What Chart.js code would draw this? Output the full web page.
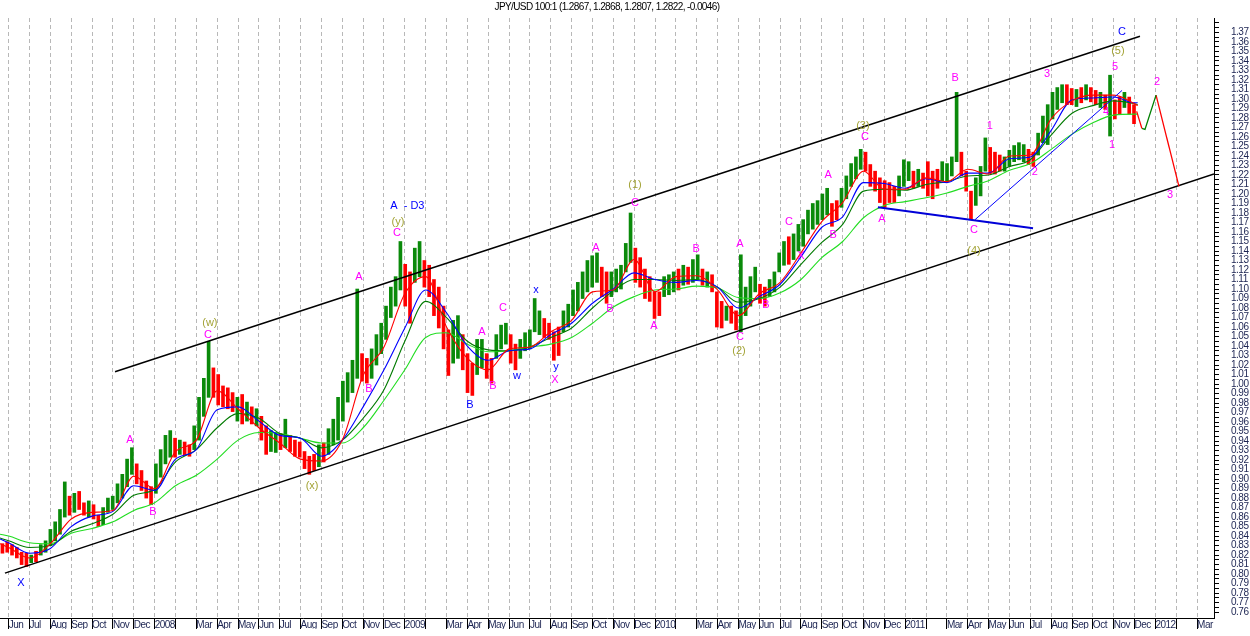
<!DOCTYPE html>
<html>
<head>
<meta charset="utf-8">
<title>JPY/USD 100:1</title>
<script src="https://cdn.jsdelivr.net/npm/chart.js@4.4.1/dist/chart.umd.min.js"></script>
<style>
  html, body { margin: 0; padding: 0; background: #fff; }
  #wrap { position: relative; width: 1250px; height: 636px; }
</style>
</head>
<body>
<div id="wrap"><canvas id="chart"></canvas></div>
<script>
// x values are months counted from 1 Jun 2007 (0 = Jun 2007, 7 = Jan 2008 ...)
const TITLE = "JPY/USD 100:1 (1.2867, 1.2868, 1.2807, 1.2822, -0.0046)";

const MONTH_LABELS = [
  "Jun", "Jul", "Aug", "Sep", "Oct", "Nov", "Dec",
  "2008", "", "Mar", "Apr", "May", "Jun", "Jul", "Aug", "Sep", "Oct", "Nov", "Dec",
  "2009", "", "Mar", "Apr", "May", "Jun", "Jul", "Aug", "Sep", "Oct", "Nov", "Dec",
  "2010", "", "Mar", "Apr", "May", "Jun", "Jul", "Aug", "Sep", "Oct", "Nov", "Dec",
  "2011", "", "Mar", "Apr", "May", "Jun", "Jul", "Aug", "Sep", "Oct", "Nov", "Dec",
  "2012", "", "Mar",
];

const X_MIN = -0.417, X_MAX = 57.81;
const Y_MIN = 0.7538, Y_MAX = 1.3852;

// weekly price ranges, first week starts mid-May 2007
const WEEK_START = -0.30;
const WEEK_LEN = 12 / 52.18;

const WEEK_HIGH = [
  0.832, 0.834, 0.831, 0.828, 0.823, 0.822, 0.820, 0.824, 0.831, 0.835,
  0.847, 0.855, 0.868, 0.897, 0.882, 0.885, 0.887, 0.875, 0.877, 0.873,
  0.862, 0.870, 0.880, 0.882, 0.895, 0.905, 0.921, 0.933, 0.916, 0.909,
  0.898, 0.892, 0.916, 0.931, 0.946, 0.951, 0.943, 0.941, 0.939, 0.936,
  0.956, 0.986, 1.006, 1.045, 1.017, 1.010, 0.998, 0.996, 0.991, 0.986,
  0.989, 0.981, 0.976, 0.974, 0.966, 0.956, 0.951, 0.949, 0.948, 0.963,
  0.946, 0.941, 0.939, 0.929, 0.924, 0.926, 0.936, 0.938, 0.953, 0.963,
  0.986, 1.003, 1.012, 1.025, 1.100, 1.032, 1.027, 1.037, 1.052, 1.064,
  1.082, 1.102, 1.113, 1.150, 1.126, 1.118, 1.143, 1.150, 1.130, 1.125,
  1.110, 1.102, 1.082, 1.057, 1.067, 1.072, 1.052, 1.032, 1.022, 1.047,
  1.047, 1.032, 1.027, 1.052, 1.062, 1.064, 1.052, 1.042, 1.047, 1.054,
  1.057, 1.090, 1.077, 1.069, 1.064, 1.055, 1.060, 1.077, 1.084, 1.099,
  1.107, 1.118, 1.130, 1.135, 1.138, 1.123, 1.118, 1.118, 1.121, 1.125,
  1.148, 1.180, 1.143, 1.133, 1.121, 1.113, 1.097, 1.097, 1.113, 1.115,
  1.118, 1.121, 1.125, 1.123, 1.131, 1.136, 1.121, 1.118, 1.115, 1.097,
  1.087, 1.082, 1.082, 1.077, 1.136, 1.102, 1.113, 1.123, 1.105, 1.102,
  1.110, 1.118, 1.138, 1.150, 1.155, 1.158, 1.168, 1.173, 1.183, 1.190,
  1.193, 1.200, 1.206, 1.190, 1.193, 1.206, 1.219, 1.232, 1.239, 1.247,
  1.244, 1.231, 1.224, 1.217, 1.214, 1.212, 1.208, 1.219, 1.236, 1.234,
  1.224, 1.226, 1.222, 1.234, 1.224, 1.226, 1.234, 1.232, 1.239, 1.307,
  1.244, 1.224, 1.203, 1.217, 1.229, 1.259, 1.249, 1.244, 1.241, 1.239,
  1.246, 1.251, 1.254, 1.252, 1.247, 1.244, 1.264, 1.282, 1.294, 1.307,
  1.312, 1.315, 1.315, 1.311, 1.310, 1.312, 1.315, 1.312, 1.309, 1.307,
  1.304, 1.325, 1.299, 1.302, 1.307, 1.302, 1.294,
];

const WEEK_LOW = [
  0.822, 0.823, 0.820, 0.817, 0.810, 0.808, 0.812, 0.813, 0.820, 0.823,
  0.830, 0.835, 0.842, 0.860, 0.862, 0.865, 0.868, 0.862, 0.860, 0.858,
  0.850, 0.852, 0.865, 0.868, 0.875, 0.880, 0.892, 0.905, 0.895, 0.888,
  0.880, 0.873, 0.885, 0.902, 0.916, 0.923, 0.923, 0.926, 0.925, 0.924,
  0.931, 0.941, 0.966, 0.986, 0.986, 0.978, 0.976, 0.974, 0.971, 0.961,
  0.958, 0.961, 0.958, 0.956, 0.941, 0.926, 0.929, 0.928, 0.931, 0.933,
  0.929, 0.924, 0.923, 0.911, 0.905, 0.909, 0.913, 0.918, 0.926, 0.936,
  0.941, 0.961, 0.981, 0.991, 1.006, 1.003, 1.001, 1.006, 1.020, 1.032,
  1.047, 1.070, 1.082, 1.099, 1.082, 1.064, 1.107, 1.113, 1.102, 1.092,
  1.072, 1.059, 1.037, 1.009, 1.022, 1.027, 1.015, 0.991, 0.988, 1.010,
  1.017, 1.006, 1.001, 1.027, 1.037, 1.042, 1.022, 1.015, 1.027, 1.035,
  1.037, 1.055, 1.052, 1.049, 1.047, 1.025, 1.030, 1.055, 1.060, 1.072,
  1.077, 1.090, 1.097, 1.102, 1.107, 1.092, 1.085, 1.092, 1.097, 1.100,
  1.118, 1.128, 1.107, 1.102, 1.090, 1.087, 1.069, 1.072, 1.092, 1.094,
  1.097, 1.099, 1.104, 1.105, 1.107, 1.110, 1.104, 1.102, 1.097, 1.060,
  1.059, 1.067, 1.064, 1.057, 1.055, 1.072, 1.082, 1.097, 1.085, 1.082,
  1.092, 1.097, 1.118, 1.125, 1.126, 1.131, 1.140, 1.145, 1.158, 1.163,
  1.168, 1.173, 1.178, 1.166, 1.173, 1.186, 1.195, 1.208, 1.216, 1.226,
  1.224, 1.208, 1.203, 1.191, 1.186, 1.191, 1.191, 1.198, 1.208, 1.214,
  1.206, 1.208, 1.206, 1.198, 1.195, 1.206, 1.214, 1.214, 1.219, 1.234,
  1.219, 1.203, 1.173, 1.188, 1.198, 1.224, 1.222, 1.221, 1.224, 1.224,
  1.229, 1.234, 1.236, 1.234, 1.231, 1.229, 1.241, 1.254, 1.252, 1.279,
  1.289, 1.296, 1.294, 1.294, 1.292, 1.296, 1.299, 1.297, 1.294, 1.291,
  1.289, 1.261, 1.279, 1.284, 1.291, 1.284, 1.274,
];

// g = week closed up, r = week closed down
const WEEK_DIR = [
  "rrrrrrgrgg", "ggggrgrrgr", "rgggggggrr", "rrggggrgrr", "ggggrrrrrg",
  "rgrgrrggrg", "rrrrrrgrgg", "gggggrrggg", "ggggrrggrr", "rrrrggrrrg",
  "grrgggrrgg", "gggrrrrggg", "gggggrrggg", "ggrrrrrrgg", "grgrggrgrr",
  "rgrrggggrr", "ggggrggggg", "gggrrggggg", "rrrrrrrggg", "rgrrrrgggg",
  "rrrgggrrrg", "ggggrrgggg", "ggrrgrgrrg", "rgrrgrr",
].join("");

// moving averages, read once a month
const MA_MONTHS = [
  -0.42, 0, 1, 2, 3, 4, 5, 6, 7, 8, 9, 10, 11, 12, 13, 14, 15, 16, 17, 18, 19,
  20, 21, 22, 23, 24, 25, 26, 27, 28, 29, 30, 31, 32, 33, 34, 35, 36, 37, 38, 39,
  40, 41, 42, 43, 44, 45, 46, 47, 48, 49, 50, 51, 52, 53, 54, 54.15,
];
const MA_RED = [
  0.832, 0.828, 0.817, 0.832, 0.858, 0.865, 0.867, 0.903, 0.890, 0.929, 0.941,
  0.993, 0.974, 0.954, 0.938, 0.921, 0.919, 0.941, 1.009, 1.039, 1.095,
  1.113, 1.060, 1.027, 1.015, 1.037, 1.039, 1.055, 1.067, 1.097, 1.099,
  1.131, 1.097, 1.113, 1.114, 1.099, 1.072, 1.095, 1.107, 1.138, 1.171,
  1.191, 1.224, 1.205, 1.205, 1.217, 1.213, 1.226, 1.221, 1.240, 1.241,
  1.279, 1.298, 1.304, 1.304, 1.295, 1.293,
];
const MA_BLUE = [
  0.837, 0.833, 0.822, 0.827, 0.850, 0.861, 0.866, 0.893, 0.888, 0.921, 0.931,
  0.973, 0.976, 0.961, 0.946, 0.943, 0.924, 0.941, 0.976, 1.015, 1.059,
  1.099, 1.075, 1.040, 1.025, 1.035, 1.037, 1.052, 1.064, 1.085, 1.100,
  1.117, 1.110, 1.107, 1.109, 1.102, 1.080, 1.092, 1.105, 1.134, 1.165,
  1.176, 1.212, 1.211, 1.206, 1.216, 1.212, 1.222, 1.222, 1.237, 1.239,
  1.267, 1.299, 1.301, 1.302, 1.296, 1.296,
];
const MA_DKGREEN = [
  0.838, 0.835, 0.828, 0.830, 0.845, 0.853, 0.863, 0.883, 0.889, 0.918, 0.931,
  0.954, 0.969, 0.964, 0.948, 0.943, 0.933, 0.941, 0.964, 0.994, 1.045,
  1.087, 1.070, 1.045, 1.036, 1.035, 1.039, 1.049, 1.059, 1.080, 1.098,
  1.110, 1.110, 1.109, 1.110, 1.102, 1.086, 1.090, 1.102, 1.126, 1.149,
  1.168, 1.203, 1.205, 1.204, 1.210, 1.213, 1.219, 1.220, 1.229, 1.236,
  1.262, 1.285, 1.293, 1.298, 1.295, 1.294,
];
const MA_LTGREEN = [
  0.842, 0.840, 0.833, 0.832, 0.843, 0.848, 0.855, 0.867, 0.875, 0.893, 0.904,
  0.921, 0.941, 0.949, 0.948, 0.943, 0.938, 0.938, 0.954, 0.983, 1.015,
  1.049, 1.054, 1.042, 1.034, 1.035, 1.039, 1.042, 1.049, 1.064, 1.081,
  1.092, 1.099, 1.100, 1.103, 1.101, 1.091, 1.090, 1.096, 1.110, 1.133,
  1.150, 1.175, 1.188, 1.192, 1.196, 1.201, 1.208, 1.214, 1.225, 1.232,
  1.247, 1.263, 1.275, 1.283, 1.284, 1.284,
];

// hand drawn trend lines, [month, price]
const CHANNEL_UPPER = [[5.10, 1.013], [54.26, 1.366]];
const CHANNEL_LOWER = [[-0.18, 0.801], [57.81, 1.221]];
const BLUE_LINE_1 = [[41.69, 1.186], [49.13, 1.164]];
const BLUE_LINE_2 = [[46.35, 1.173], [53.40, 1.309]];
const PROJ_DOWN_1 = [[54.10, 1.287], [54.35, 1.269]];
const PROJ_UP = [[54.35, 1.269], [54.50, 1.268], [55.03, 1.304]];
const PROJ_DOWN_2 = [[55.03, 1.304], [56.13, 1.208]];

// wave counts: [text, month, price, colour]
const WAVE_LABELS = [
  ["X", 0.59, 0.791, "b"],
  ["A", 5.82, 0.941, "m"],
  ["B", 6.92, 0.865, "m"],
  ["(w)", 9.65, 1.064, "o"],
  ["C", 9.56, 1.052, "m"],
  ["(x)", 14.55, 0.893, "o"],
  ["A", 16.80, 1.113, "m"],
  ["B", 17.28, 0.995, "m"],
  ["A  - D3", 19.12, 1.187, "b"],
  ["(y)", 18.67, 1.171, "o"],
  ["C", 18.62, 1.159, "m"],
  ["B", 22.12, 0.978, "b"],
  ["A", 22.70, 1.055, "m"],
  ["C", 23.71, 1.080, "m"],
  ["B", 23.23, 0.998, "m"],
  ["w", 24.38, 1.008, "b"],
  ["x", 25.29, 1.099, "b"],
  ["y", 26.25, 1.018, "b"],
  ["X", 26.20, 1.004, "m"],
  ["A", 28.17, 1.143, "m"],
  ["B", 28.84, 1.079, "m"],
  ["(1)", 30.04, 1.210, "o"],
  ["C", 30.04, 1.191, "m"],
  ["A", 30.95, 1.061, "m"],
  ["B", 32.97, 1.142, "m"],
  ["A", 35.07, 1.147, "m"],
  ["C", 35.07, 1.050, "m"],
  ["(2)", 35.03, 1.035, "o"],
  ["B", 36.32, 1.083, "m"],
  ["C", 37.42, 1.171, "m"],
  ["X", 38.00, 1.135, "m"],
  ["A", 39.30, 1.220, "m"],
  ["B", 39.54, 1.157, "m"],
  ["(3)", 40.97, 1.272, "o"],
  ["C", 41.07, 1.260, "m"],
  ["A", 41.88, 1.174, "m"],
  ["B", 45.39, 1.322, "m"],
  ["1", 47.06, 1.272, "m"],
  ["C", 46.30, 1.162, "m"],
  ["(4)", 46.30, 1.140, "o"],
  ["2", 49.22, 1.223, "m"],
  ["3", 49.80, 1.326, "m"],
  ["4", 52.63, 1.286, "m"],
  ["1", 52.92, 1.252, "m"],
  ["5", 53.06, 1.334, "m"],
  ["(5)", 53.20, 1.351, "o"],
  ["C", 53.40, 1.371, "b"],
  ["2", 55.08, 1.318, "m"],
  ["3", 55.70, 1.199, "m"],
];

const UP_COLOR = "#0a8a0a";
const DOWN_COLOR = "#ff0000";
const LABEL_COLORS = { m: "#ff00ff", b: "#0000ff", o: "#a3a336" };
const AXIS_TEXT = "#1c2452";
const FONT = "'Liberation Sans', Arial, sans-serif";

const toPoints = pairs => pairs.map(([x, y]) => ({ x, y }));
const maPoints = values => values.map((y, i) => ({ x: MA_MONTHS[i], y }));

function lineSet(data, color, width, order, smooth) {
    return {
        type: "line",
        data,
        borderColor: color,
        borderWidth: width,
        pointRadius: 0,
        fill: false,
        tension: 0,
        cubicInterpolationMode: smooth ? "monotone" : "default",
        order,
    };
}

const priceBars = {
    type: "bar",
    data: WEEK_HIGH.map((h, i) => ({ x: WEEK_START + i * WEEK_LEN, y: [WEEK_LOW[i], h] })),
    backgroundColor: WEEK_HIGH.map((_, i) => (WEEK_DIR[i] === "g" ? UP_COLOR : DOWN_COLOR)),
    borderWidth: 0,
    barThickness: 3,
    order: 20,
};

// title, wave labels and tighter letter spacing like the original terminal font
const textLayer = {
    id: "textLayer",
    beforeDraw(chart) {
        chart.ctx.letterSpacing = "-0.5px";
    },
    afterDatasetsDraw(chart) {
        const { ctx, scales: { x, y } } = chart;
        ctx.save();
        ctx.letterSpacing = "0px";
        ctx.font = "11px " + FONT;
        ctx.textAlign = "center";
        ctx.textBaseline = "middle";
        for (const [text, m, v, kind] of WAVE_LABELS) {
            ctx.fillStyle = LABEL_COLORS[kind];
            ctx.fillText(text, x.getPixelForValue(m), y.getPixelForValue(v));
        }
        ctx.restore();
    },
    afterDraw(chart) {
        const { ctx, chartArea } = chart;
        ctx.save();
        ctx.letterSpacing = "-0.6px";
        ctx.font = "10px " + FONT;
        ctx.fillStyle = "#000";
        ctx.textAlign = "center";
        ctx.textBaseline = "middle";
        ctx.fillText(TITLE, (chartArea.left + chartArea.right) / 2, 7);
        ctx.restore();
    },
};

new Chart(document.getElementById("chart"), {
    type: "bar",
    data: {
        datasets: [
            lineSet(toPoints(PROJ_DOWN_1), "#ff0000", 1.3, 1),
            lineSet(toPoints(PROJ_UP), "#008000", 1.3, 1),
            lineSet(toPoints(PROJ_DOWN_2), "#ff0000", 1.3, 1),
            lineSet(toPoints(CHANNEL_UPPER), "#000000", 1.5, 2),
            lineSet(toPoints(CHANNEL_LOWER), "#000000", 1.5, 2),
            lineSet(toPoints(BLUE_LINE_1), "#0000d8", 2, 2),
            lineSet(toPoints(BLUE_LINE_2), "#0000ff", 1, 2),
            lineSet(maPoints(MA_RED), "#ff0000", 1.1, 5, true),
            lineSet(maPoints(MA_BLUE), "#0000ff", 1.1, 6, true),
            lineSet(maPoints(MA_DKGREEN), "#007a00", 1.1, 7, true),
            lineSet(maPoints(MA_LTGREEN), "#22dd22", 1.1, 8, true),
            priceBars,
        ],
    },
    options: {
        responsive: true,
        maintainAspectRatio: false,
        animation: false,
        events: [],
        layout: { padding: 0 },
        plugins: {
            legend: { display: false },
            tooltip: { enabled: false },
            title: { display: false },
        },
        scales: {
            x: {
                type: "linear",
                bounds: "data",
                min: X_MIN,
                max: X_MAX,
                offset: false,
                grid: {
                    offset: false,
                    color: "#b8b8b8",
                    lineWidth: 1,
                    drawTicks: true,
                    tickLength: 11,
                    tickColor: "#000",
                    tickWidth: 1,
                },
                border: { display: true, color: "#000", width: 1, dash: [4, 3] },
                ticks: {
                    autoSkip: false,
                    maxRotation: 0,
                    minRotation: 0,
                    align: "start",
                    padding: -10,
                    color: AXIS_TEXT,
                    font: { family: FONT, size: 10 },
                    callback: value => MONTH_LABELS[Math.round(value)] ?? "",
                },
                afterBuildTicks: scale => {
                    scale.ticks = MONTH_LABELS.map((_, i) => ({ value: i }));
                },
                afterFit: scale => { scale.height = 11; },
            },
            y: {
                type: "linear",
                position: "right",
                bounds: "data",
                min: Y_MIN,
                max: Y_MAX,
                grid: {
                    drawOnChartArea: false,
                    drawTicks: true,
                    tickLength: 5,
                    tickColor: "#000",
                },
                border: { display: true, color: "#000", width: 1 },
                ticks: {
                    autoSkip: false,
                    padding: 12,
                    color: AXIS_TEXT,
                    font: { family: FONT, size: 10 },
                    callback: value => {
                        const half = Math.round(value * 200);
                        return half % 2 === 0 && value <= 1.3705 ? value.toFixed(2) : "";
                    },
                },
                // minor ticks every 0.005, labels every 0.01
                afterBuildTicks: scale => {
                    const ticks = [];
                    for (let h = 152; h <= 276; h++) ticks.push({ value: h / 200 });
                    scale.ticks = ticks;
                },
                afterFit: scale => { scale.width = 36; },
            },
        },
    },
    plugins: [textLayer],
});
</script>
</body>
</html>
